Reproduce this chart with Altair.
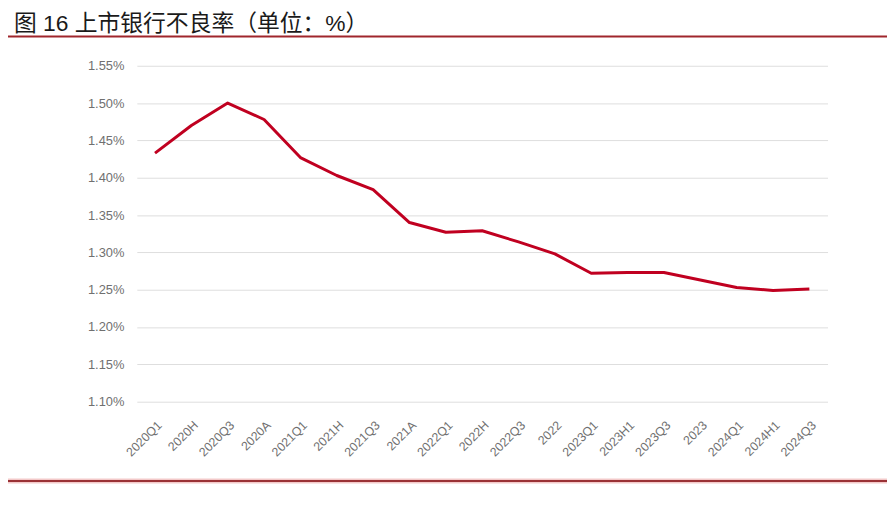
import altair as alt
import pandas as pd

periods = ["2020Q1", "2020H", "2020Q3", "2020A", "2021Q1", "2021H", "2021Q3", "2021A",
           "2022Q1", "2022H", "2022Q3", "2022", "2023Q1", "2023H1", "2023Q3", "2023",
           "2024Q1", "2024H1", "2024Q3"]
npl_rate = [1.433, 1.470, 1.500, 1.478, 1.427, 1.403, 1.384, 1.340,
            1.327, 1.329, 1.314, 1.298, 1.272, 1.273, 1.273, 1.263,
            1.253, 1.249, 1.251]
title_text = ["图 16  上市银行不良率（单位：%）"]

df = pd.DataFrame({"period": periods, "rate": [v / 100 for v in npl_rate]})
df_title = pd.DataFrame({"t": title_text})

W, H = 697, 339
PL, PT, PR, PB = 130, 56, 60, 105

base = alt.Chart(df)

line = base.mark_line(color="#c00020", strokeWidth=3, strokeJoin="round").encode(
    x=alt.X("period:N", sort=periods, title=None,
            scale=alt.Scale(paddingInner=0, paddingOuter=0),
            axis=alt.Axis(labelAngle=-45, labelColor="#707070", labelFontSize=12.5,
                          labelFont="Liberation Sans", domain=False, ticks=False,
                          labelPadding=17, grid=False)),
    y=alt.Y("rate:Q", title=None,
            scale=alt.Scale(domain=[0.011, 0.0155], nice=False, zero=False),
            axis=alt.Axis(format=".2%", values=[0.011 + 0.0005 * i for i in range(10)],
                          labelColor="#707070", labelFontSize=13, labelFont="Liberation Sans",
                          domain=False, ticks=False, labelPadding=13,
                          gridColor="#dedede", gridWidth=1)),
)

title = alt.Chart(df_title).mark_text(
    align="left", baseline="alphabetic", fontSize=23,
    font="Liberation Sans, Noto Sans CJK SC", color="#1a1a1a").encode(
    text="t:N", x=alt.value(14 - 8 - PL), y=alt.value(29 - 8 - PT))

top_rule = alt.Chart(df_title).mark_rule(color="#a0262c", strokeWidth=2).encode(
    x=alt.value(-PL), x2=alt.value(W + PR), y=alt.value(34.5 - 8 - PT))
bottom_glow = alt.Chart(df_title).mark_rule(color="#f3c9c9", strokeWidth=5).encode(
    x=alt.value(-PL), x2=alt.value(W + PR), y=alt.value(483 - 8 - PT))
bottom_rule = alt.Chart(df_title).mark_rule(color="#9a3236", strokeWidth=2).encode(
    x=alt.value(-PL), x2=alt.value(W + PR), y=alt.value(483 - 8 - PT))

chart = alt.layer(line, title, top_rule, bottom_glow, bottom_rule).properties(
    width=W, height=H,
    autosize=alt.AutoSizeParams(type="none"),
    padding={"left": PL, "top": PT, "right": PR, "bottom": PB},
).configure_view(stroke=None)

chart.save("out.html", embed_options={"renderer": "svg", "actions": False})
